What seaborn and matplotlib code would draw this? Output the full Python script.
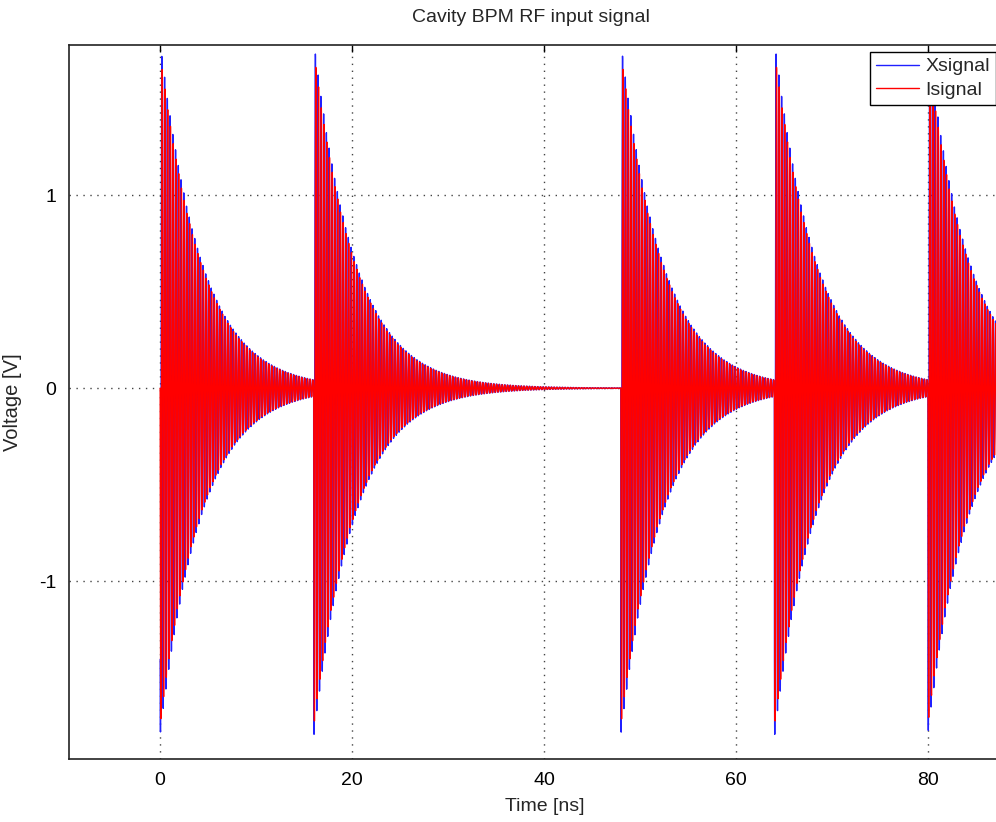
import matplotlib
matplotlib.use("Agg")
import matplotlib.pyplot as plt
import numpy as np
import seaborn as sns

sns.set_style("white")
plt.rcParams['font.family'] = ['Liberation Sans', 'DejaVu Sans']
plt.rcParams['path.simplify'] = False

# bunch arrival times [ns] and peak amplitudes [V]
bunch_times = [0, 16, 48, 64, 80]
bunch_amps = [1.74, 1.71, 1.74, 1.71, 1.69]
decay_ns = 4.3          # cavity ring-down time
rf_freq_ghz = 3.5       # cavity frequency (as it shows on the plot)
x_phase = 0.9           # Xsignal lags Isignal a little
x_gain = 1.03
dt_ns = 0.01
t_end = 100.0

xticks = [0, 20, 40, 60, 80]
yticks = [-1, 0, 1]


def ringdown(t, phase, gain):
    sig = np.zeros_like(t)
    for tb, a in zip(bunch_times, bunch_amps):
        tt = t - tb
        on = tt >= 0
        sig[on] += -gain * a * np.exp(-tt[on] / decay_ns) * np.sin(2 * np.pi * rf_freq_ghz * tt[on] + phase)
    return sig


t = np.arange(0, t_end, dt_ns)
isig = ringdown(t, 0.0, 1.0)
xsig = ringdown(t, x_phase, x_gain)

fig = plt.figure(figsize=(9.96, 8.22), dpi=100)
# axes runs past the right edge of the picture, like the cropped original
ax_w = 1051
ax = fig.add_axes([69 / 996, 1 - 759 / 822, ax_w / 996, (759 - 45) / 822])

sns.lineplot(x=t, y=xsig, ax=ax, color='#2020ff', linewidth=2.4, estimator=None, sort=False, label='Xsignal')
sns.lineplot(x=t, y=isig, ax=ax, color='#ff0000', linewidth=2.0, estimator=None, sort=False, label='Isignal')
ax.get_legend().remove()

ax.set_xlim(-9.5, 100)
ax.set_ylim(-1.92, 1.777)
ax.set_xticks(xticks)
ax.set_yticks(yticks)
ax.set_xticklabels([str(v) for v in xticks])
ax.set_yticklabels([str(v) for v in yticks])
ax.tick_params(direction='in', length=5, width=1, top=True, right=True, labelsize=14, colors='black', pad=9)
ax.grid(True, color='#444444', linestyle=(0, (1, 4)), linewidth=1)
for s in ax.spines.values():
    s.set_color('#222222')
    s.set_linewidth(1.2)

ax.set_xlabel('Time [ns]', fontsize=14)
ax.xaxis.set_label_coords((545 - 69) / ax_w, -0.055)
ax.set_ylabel('Voltage [V]', fontsize=14.5)
ax.yaxis.set_label_coords((22 - 69) / ax_w, 0.5)
fig.text(531 / 996, 1 - 17 / 822, 'Cavity BPM RF input signal', ha='center', va='center', fontsize=14)

handles, labels = ax.get_legend_handles_labels()
for h in handles:
    h.set_linewidth(1.0)
leg = fig.legend(handles, labels, loc='upper left', bbox_to_anchor=(870 / 996, 1 - 52 / 822),
                 frameon=True, fancybox=False, framealpha=1, edgecolor='black', fontsize=14,
                 handlelength=2.2, handletextpad=0.35, borderpad=0.3, labelspacing=0.3, borderaxespad=0)
leg.get_frame().set_linewidth(1.0)

fig.savefig('out.png', dpi=100)
